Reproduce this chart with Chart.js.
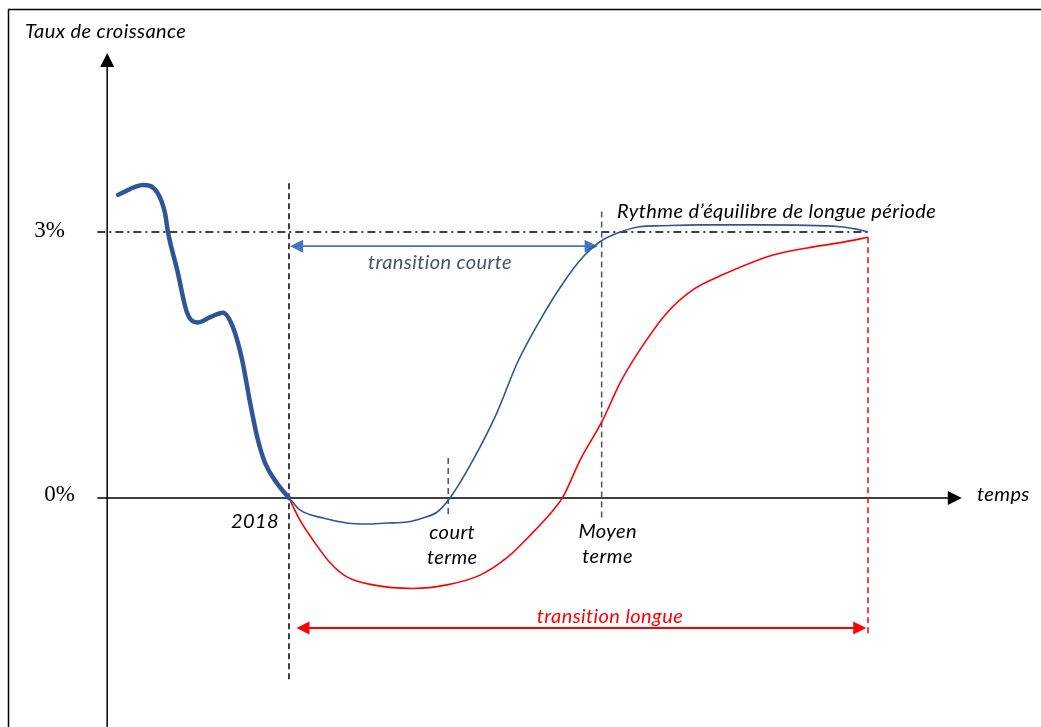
<!DOCTYPE html>
<html>
<head>
<meta charset="utf-8">
<script src="https://cdn.jsdelivr.net/npm/chart.js@4.4.1/dist/chart.umd.min.js"></script>
<style>
  html, body { margin: 0; padding: 0; background: #ffffff; }
  #wrap { width: 1041px; height: 727px; position: relative; }
</style>
</head>
<body>
<div id="wrap"><canvas id="c"></canvas></div>
<script>
// ---- Data (time t: 0 = 2018, 100 = end of long transition; y in % growth) ----
const historyT = [-29.5, -25.2, -22.8, -21.4, -20.9, -19.3, -17.6, -15.7, -13.6, -11.4, -9.7, -8.1, -6.7, -5.5, -4.1, -2.1, 0];
const historyY = [3.42, 3.53, 3.45, 3.21, 3.00, 2.57, 2.09, 1.98, 2.04, 2.09, 1.93, 1.56, 1.07, 0.69, 0.39, 0.17, 0];

const shortT = [0, 1.9, 5.9, 10.0, 13.5, 16.9, 20.4, 23.1, 25.6, 27.8, 31.8, 35.9, 39.4, 43.4, 47.3, 50.8, 53.7, 57.2, 60.6, 64.1, 71.0, 81.3, 95.2, 98.1, 100];
const shortY = [0, -0.135, -0.226, -0.282, -0.293, -0.282, -0.271, -0.226, -0.158, 0, 0.43, 0.96, 1.52, 2.01, 2.42, 2.72, 2.89, 3.00, 3.06, 3.07, 3.08, 3.08, 3.06, 3.03, 3.00];

const longT = [0, 1.9, 4.1, 7.1, 10.0, 14.5, 21.4, 27.3, 33.0, 37.7, 42.1, 45.6, 47.3, 50.3, 54.2, 57.2, 60.6, 65.3, 69.8, 75.0, 83.6, 89.5, 95.2, 100];
const longY = [0, -0.25, -0.47, -0.73, -0.89, -0.98, -1.02, -0.98, -0.87, -0.67, -0.39, -0.14, 0.01, 0.43, 0.88, 1.30, 1.67, 2.09, 2.35, 2.52, 2.74, 2.82, 2.88, 2.94];

const yTickValues = [0, 3];
const yTickLabels = ['0%', '3%'];
const markerT = [0, 27.5, 54, 100];           // 2018, court terme, moyen terme, fin transition longue
const markerLabels = ['2018', 'court\nterme', 'Moyen\nterme', ''];
const equilibriumRate = 3;

const toPts = (ts, ys) => ts.map((t, i) => ({ x: t, y: ys[i] }));

const DARK_BLUE = '#2F5597';
const RED = '#FF0000';
const ARROW_BLUE = '#4472C4';
const SLATE = '#44546A';
const ITALIC = 'italic 20px Lato, "Open Sans", sans-serif';

function arrowHead(ctx, x, y, dx, dy, len, hw, color) {
  const px = -dy, py = dx;
  ctx.save();
  ctx.fillStyle = color;
  ctx.beginPath();
  ctx.moveTo(x, y);
  ctx.lineTo(x - dx * len + px * hw, y - dy * len + py * hw);
  ctx.lineTo(x - dx * len - px * hw, y - dy * len - py * hw);
  ctx.closePath();
  ctx.fill();
  ctx.restore();
}
function line(ctx, x1, y1, x2, y2, color, w, dash) {
  ctx.save();
  ctx.strokeStyle = color;
  ctx.lineWidth = w;
  ctx.setLineDash(dash || []);
  ctx.beginPath();
  ctx.moveTo(x1, y1);
  ctx.lineTo(x2, y2);
  ctx.stroke();
  ctx.restore();
}
function text(ctx, s, x, y, font, color, align, spacing) {
  ctx.save();
  ctx.font = font;
  ctx.fillStyle = color;
  ctx.textAlign = align || 'center';
  ctx.textBaseline = 'middle';
  if ('letterSpacing' in ctx) ctx.letterSpacing = spacing || '0.4px';
  ctx.fillText(s, x, y);
  ctx.restore();
}

const decor = {
  id: 'decor',
  beforeDatasetsDraw(chart) {
    const ctx = chart.ctx;
    const X = v => chart.scales.x.getPixelForValue(v);
    const Y = v => chart.scales.y.getPixelForValue(v);
    // frame
    ctx.save();
    ctx.strokeStyle = '#000';
    ctx.lineWidth = 1.5;
    ctx.strokeRect(8.5, 9.5, 1100, 800);
    ctx.restore();

    const yAxisT = -31.4;
    // y axis with arrow
    line(ctx, X(yAxisT), Y(-3), X(yAxisT), Y(4.86), '#000', 1.5);
    arrowHead(ctx, X(yAxisT), Y(5.02), 0, -1, 14, 7, '#000');
    // x axis with arrow
    line(ctx, X(-33.1), Y(0), X(113.8), Y(0), '#000', 1.5);
    arrowHead(ctx, X(116.2), Y(0), 1, 0, 14, 7, '#000');

    // equilibrium dash-dot line
    line(ctx, X(-33.1), Y(equilibriumRate), X(100.3), Y(equilibriumRate), '#000', 1.3, [8, 4, 2, 4]);

    // vertical markers
    line(ctx, X(markerT[0]), Y(3.55), X(markerT[0]), Y(-2.05), '#000', 1.5, [6, 4]);
    line(ctx, X(markerT[1]), Y(0.45), X(markerT[1]), Y(-0.19), SLATE, 1.5, [6, 4]);
    line(ctx, X(markerT[2]), Y(3.23), X(markerT[2]), Y(-0.23), SLATE, 1.5, [6, 4]);
    line(ctx, X(markerT[3]), Y(2.94), X(markerT[3]), Y(-1.56), RED, 1.5, [6, 4]);

    // transition courte arrow
    const yc = Y(2.84);
    line(ctx, X(0.2) + 10, yc, X(53.3) - 10, yc, ARROW_BLUE, 1.8);
    arrowHead(ctx, X(0.2), yc, -1, 0, 13, 6.5, ARROW_BLUE);
    arrowHead(ctx, X(53.3), yc, 1, 0, 13, 6.5, ARROW_BLUE);

    // transition longue arrow
    const yl = Y(-1.466);
    line(ctx, X(1.3) + 10, yl, X(99.7) - 10, yl, RED, 2);
    arrowHead(ctx, X(1.3), yl, -1, 0, 13, 6.5, RED);
    arrowHead(ctx, X(99.7), yl, 1, 0, 13, 6.5, RED);
  },
  afterDatasetsDraw(chart) {
    const ctx = chart.ctx;
    const X = v => chart.scales.x.getPixelForValue(v);
    const Y = v => chart.scales.y.getPixelForValue(v);
    const serif = '23px "Liberation Serif", "DejaVu Serif", serif';
    // y tick labels
    text(ctx, yTickLabels[0], 75, Y(yTickValues[0]) - 3, serif, '#000', 'right', '0px');
    text(ctx, yTickLabels[1], 65, Y(yTickValues[1]) - 1, serif, '#000', 'right', '0px');
    // axis titles
    text(ctx, 'Taux de croissance', 25, 32, ITALIC, '#000', 'left');
    text(ctx, 'temps', 977, Y(0) - 3, ITALIC, '#000', 'left');
    // marker labels
    text(ctx, markerLabels[0], X(markerT[0]) - 10, Y(0) + 24, ITALIC, '#000', 'right');
    markerLabels[1].split('\n').forEach((s, i) => text(ctx, s, X(markerT[1]) + 4, Y(0) + 35 + i * 25, ITALIC, '#000'));
    markerLabels[2].split('\n').forEach((s, i) => text(ctx, s, X(markerT[2]) + 6, Y(0) + 34 + i * 25, ITALIC, '#000'));
    // annotations
    text(ctx, 'Rythme d\u2019équilibre de longue période', 617, 212, ITALIC, '#000', 'left');
    text(ctx, 'transition courte', 440, 263, ITALIC, SLATE);
    text(ctx, 'transition longue', 610, 617, ITALIC, RED);
  }
};

new Chart(document.getElementById('c'), {
  type: 'line',
  data: {
    datasets: [
      { data: toPts(historyT, historyY), borderColor: DARK_BLUE, borderWidth: 4.5, pointRadius: 0, cubicInterpolationMode: 'monotone', borderCapStyle: 'round' },
      { data: toPts(shortT, shortY), borderColor: DARK_BLUE, borderWidth: 1.6, pointRadius: 0, cubicInterpolationMode: 'monotone' },
      { data: toPts(longT, longY), borderColor: RED, borderWidth: 1.6, pointRadius: 0, cubicInterpolationMode: 'monotone' }
    ]
  },
  options: {
    responsive: true,
    maintainAspectRatio: false,
    animation: false,
    devicePixelRatio: 1,
    layout: { padding: 0 },
    plugins: { legend: { display: false }, tooltip: { enabled: false } },
    scales: {
      x: { type: 'linear', display: false, min: -49.91, max: 129.88 },
      y: { type: 'linear', display: false, min: -2.5827, max: 5.6165 }
    }
  },
  plugins: [decor]
});
</script>
</body>
</html>
